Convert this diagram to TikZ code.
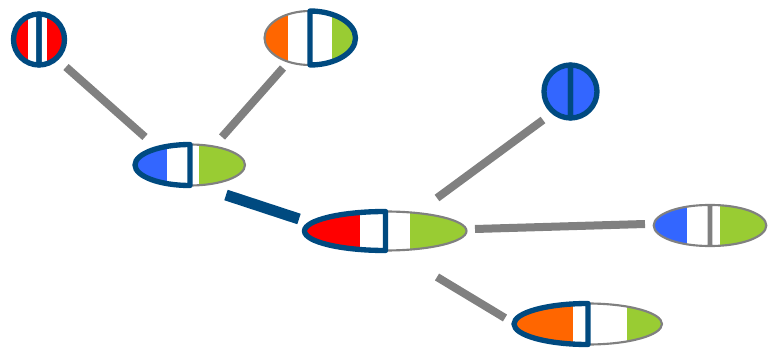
\documentclass[tikz,border=0pt]{standalone}
\usetikzlibrary{calc}

\definecolor{rimblue}{RGB}{0,74,128}
\definecolor{rimgray}{RGB}{128,128,128}
\definecolor{segred}{RGB}{255,0,0}
\definecolor{segorange}{RGB}{255,102,0}
\definecolor{seggreen}{RGB}{153,204,51}
\definecolor{segblue}{RGB}{51,102,255}

\tikzset{
  boldrim/.style={draw=rimblue, line width=4pt, line join=round},
  thinrim/.style={draw=rimgray, line width=1.6pt},
  link/.style={draw=rimgray, line width=6pt},
  mainlink/.style={draw=rimblue, line width=8.25pt},
}

% coloured segments of a split ellipse: rx, ry, left colour, left stop, right start, right colour
\newcommand\hapfill[6]{%
  \begin{scope}
    \clip (0,0) ellipse [x radius=#1, y radius=#2];
    \fill[#3] (-#1,-#2) rectangle (-#4,#2);
    \fill[#6] (#5,-#2) rectangle (#1,#2);
  \end{scope}}
% D-shaped outlines of the two halves: rx, ry, style
\newcommand\rimleft[3]{\draw[#3] (0,#2) arc[start angle=90,end angle=270,x radius=#1,y radius=#2] -- cycle;}
\newcommand\rimright[3]{\draw[#3] (0,-#2) arc[start angle=-90,end angle=90,x radius=#1,y radius=#2] -- cycle;}

\begin{document}
\begin{tikzpicture}[x=0.75pt,y=0.75pt]
\useasboundingbox (0,0) rectangle (768,354);

% haplotype centres
\coordinate (hA) at (39,314.5);
\coordinate (hB) at (310,316);
\coordinate (hC) at (190,189);
\coordinate (hD) at (385.5,123);
\coordinate (hE) at (570.5,262.5);
\coordinate (hF) at (710,128.5);
\coordinate (hG) at (588,30);

% connector end points
\coordinate (e1a) at (66,287);   \coordinate (e1b) at (145,217);
\coordinate (e2a) at (283,286);  \coordinate (e2b) at (222,217);
\coordinate (e3a) at (226,159);  \coordinate (e3b) at (299,135);
\coordinate (e4a) at (437,156);  \coordinate (e4b) at (543,234);
\coordinate (e5a) at (475,125);  \coordinate (e5b) at (645,130);
\coordinate (e6a) at (437,77);   \coordinate (e6b) at (505,36);

% connectors
\draw[link] (e1a) -- (e1b);
\draw[link] (e2a) -- (e2b);
\draw[mainlink] (e3a) -- (e3b);
\draw[link] (e4a) -- (e4b);
\draw[link] (e5a) -- (e5b);
\draw[link] (e6a) -- (e6b);

% A
\begin{scope}[shift={(hA)}]
  \hapfill{25.5}{25.5}{segred}{11}{8}{segred}
  \rimright{25.5}{25.5}{boldrim}
  \rimleft{25.5}{25.5}{boldrim}
\end{scope}

% B
\begin{scope}[shift={(hB)}]
  \hapfill{45.5}{27}{segorange}{22}{22}{seggreen}
  \rimleft{45.5}{27}{thinrim}
  \rimright{45.5}{27}{boldrim}
\end{scope}

% C
\begin{scope}[shift={(hC)}]
  \hapfill{55}{20.5}{segblue}{23}{9}{seggreen}
  \rimright{55}{20.5}{thinrim}
  \rimleft{55}{20.5}{boldrim}
\end{scope}

% D
\begin{scope}[shift={(hD)}]
  \hapfill{81}{19.5}{segred}{25.5}{24.5}{seggreen}
  \rimright{81}{19.5}{thinrim}
  \rimleft{81}{19.5}{boldrim}
\end{scope}

% E
\begin{scope}[shift={(hE)}]
  \hapfill{26.5}{26.5}{segblue}{0}{0}{segblue}
  \rimright{26.5}{26.5}{boldrim}
  \rimleft{26.5}{26.5}{boldrim}
\end{scope}

% F
\begin{scope}[shift={(hF)}]
  \hapfill{56}{20.5}{segblue}{23}{10}{seggreen}
  \begin{scope}[xshift=0.9]\rimright{55.1}{20.5}{thinrim}\end{scope}
  \begin{scope}[xshift=-0.9]\rimleft{55.1}{20.5}{thinrim}\end{scope}
\end{scope}

% G
\begin{scope}[shift={(hG)}]
  \hapfill{74}{20.5}{segorange}{15}{39}{seggreen}
  \rimright{74}{20.5}{thinrim}
  \rimleft{74}{20.5}{boldrim}
\end{scope}
\end{tikzpicture}
\end{document}
